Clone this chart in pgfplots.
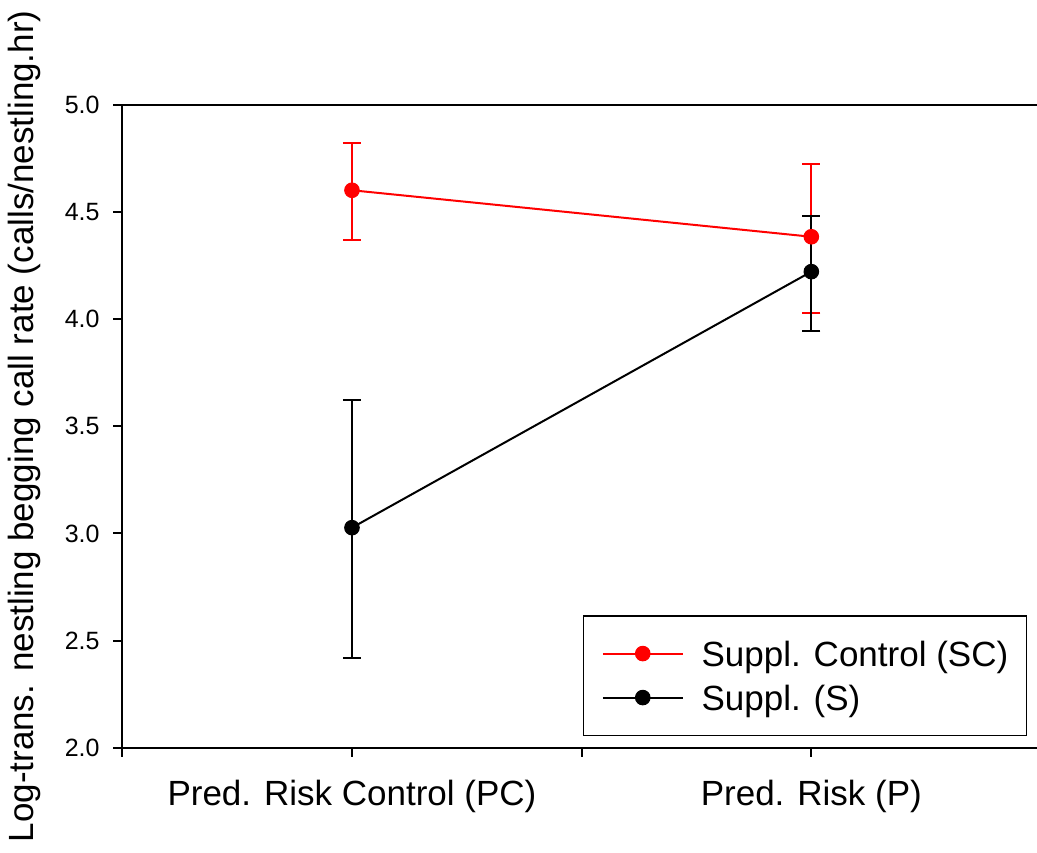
\documentclass[border=0pt]{standalone}
\usepackage{pgfplots}
\pgfplotsset{compat=1.18}
\usepackage{fontspec}
\setmainfont{Liberation Sans}
\usetikzlibrary{calc}

\newcommand{\labfont}{\fontsize{17.5}{21}\selectfont}
\newcommand{\tickfont}{\fontsize{12.5}{15}\selectfont}

\begin{document}
\begin{tikzpicture}
\begin{axis}[
  name=ax,
  scale only axis,
  width=459.35pt, height=321.35pt,
  xmin=0, xmax=2, ymin=2, ymax=5,
  axis line style={line width=1pt},
  tick pos=left,
  tick align=outside,
  major tick length=4.5pt,
  tick style={line width=1pt, black},
  xtick={0,0.5,1,1.5,2},
  xticklabels={,Pred. Risk Control (PC),,Pred. Risk (P),},
  xticklabel style={font=\labfont, anchor=base, yshift=-24.5pt},
  ytick={2,2.5,3,3.5,4,4.5,5},
  /pgf/number format/assume math mode=true,
  yticklabel style={font=\tickfont, anchor=east, inner sep=0pt, xshift=-6.65pt,
    /pgf/number format/fixed, /pgf/number format/fixed zerofill,
    /pgf/number format/precision=1},
  ylabel={Log-trans. nestling begging call rate (calls/nestling.hr)},
  ylabel style={font=\labfont, at={(rel axis cs:-0.0972,0.5)}, anchor=base},
  legend style={at={(rel axis cs:0.5011,0.2065)}, anchor=north west,
    draw=black, line width=0.8pt, font=\labfont,
    inner xsep=9.15pt, inner ysep=10.4pt, row sep=5pt,
    nodes={inner sep=0pt, text height=14.76pt, text depth=2.24pt},
    /tikz/every odd column/.append style={column sep=8.9pt}},
  legend cell align=left,
  legend image code/.code={\draw[mark repeat=2,mark phase=2] plot coordinates {(0pt,0pt) (20pt,0pt) (40pt,0pt)};},
]
% error bars first so the markers sit on top
\addplot[red, only marks, mark=none, forget plot,
  error bars/.cd, y dir=both, y explicit,
  error bar style={line width=1pt, draw=red},
  error mark options={rotate=90, mark size=4.5pt, line width=1pt, draw=red}]
  coordinates {(0.5,4.602) += (0,0.221) -= (0,0.231)
               (1.5,4.385) += (0,0.340) -= (0,0.355)};
\addplot[black, only marks, mark=none, forget plot,
  error bars/.cd, y dir=both, y explicit,
  error bar style={line width=1pt, draw=black},
  error mark options={rotate=90, mark size=4.5pt, line width=1pt, draw=black}]
  coordinates {(0.5,3.027) += (0,0.597) -= (0,0.610)
               (1.5,4.222) += (0,0.260) -= (0,0.276)};

\addplot[red, line width=1pt, mark=*, mark size=3.65pt, mark options={solid, fill=red, line width=0.5pt}]
  coordinates {(0.5,4.602) (1.5,4.385)};
\addlegendentry{Suppl. Control (SC)}
\addplot[black, line width=1pt, mark=*, mark size=3.65pt, mark options={solid, fill=black, line width=0.5pt}]
  coordinates {(0.5,3.027) (1.5,4.222)};
\addlegendentry{Suppl. (S)}
\end{axis}
\pgfresetboundingbox
\path[use as bounding box] ($(ax.south west)+(-61.15pt,-52.65pt)$) rectangle ($(ax.north west)+(457.35pt,52.5pt)$);
\end{tikzpicture}
\end{document}
